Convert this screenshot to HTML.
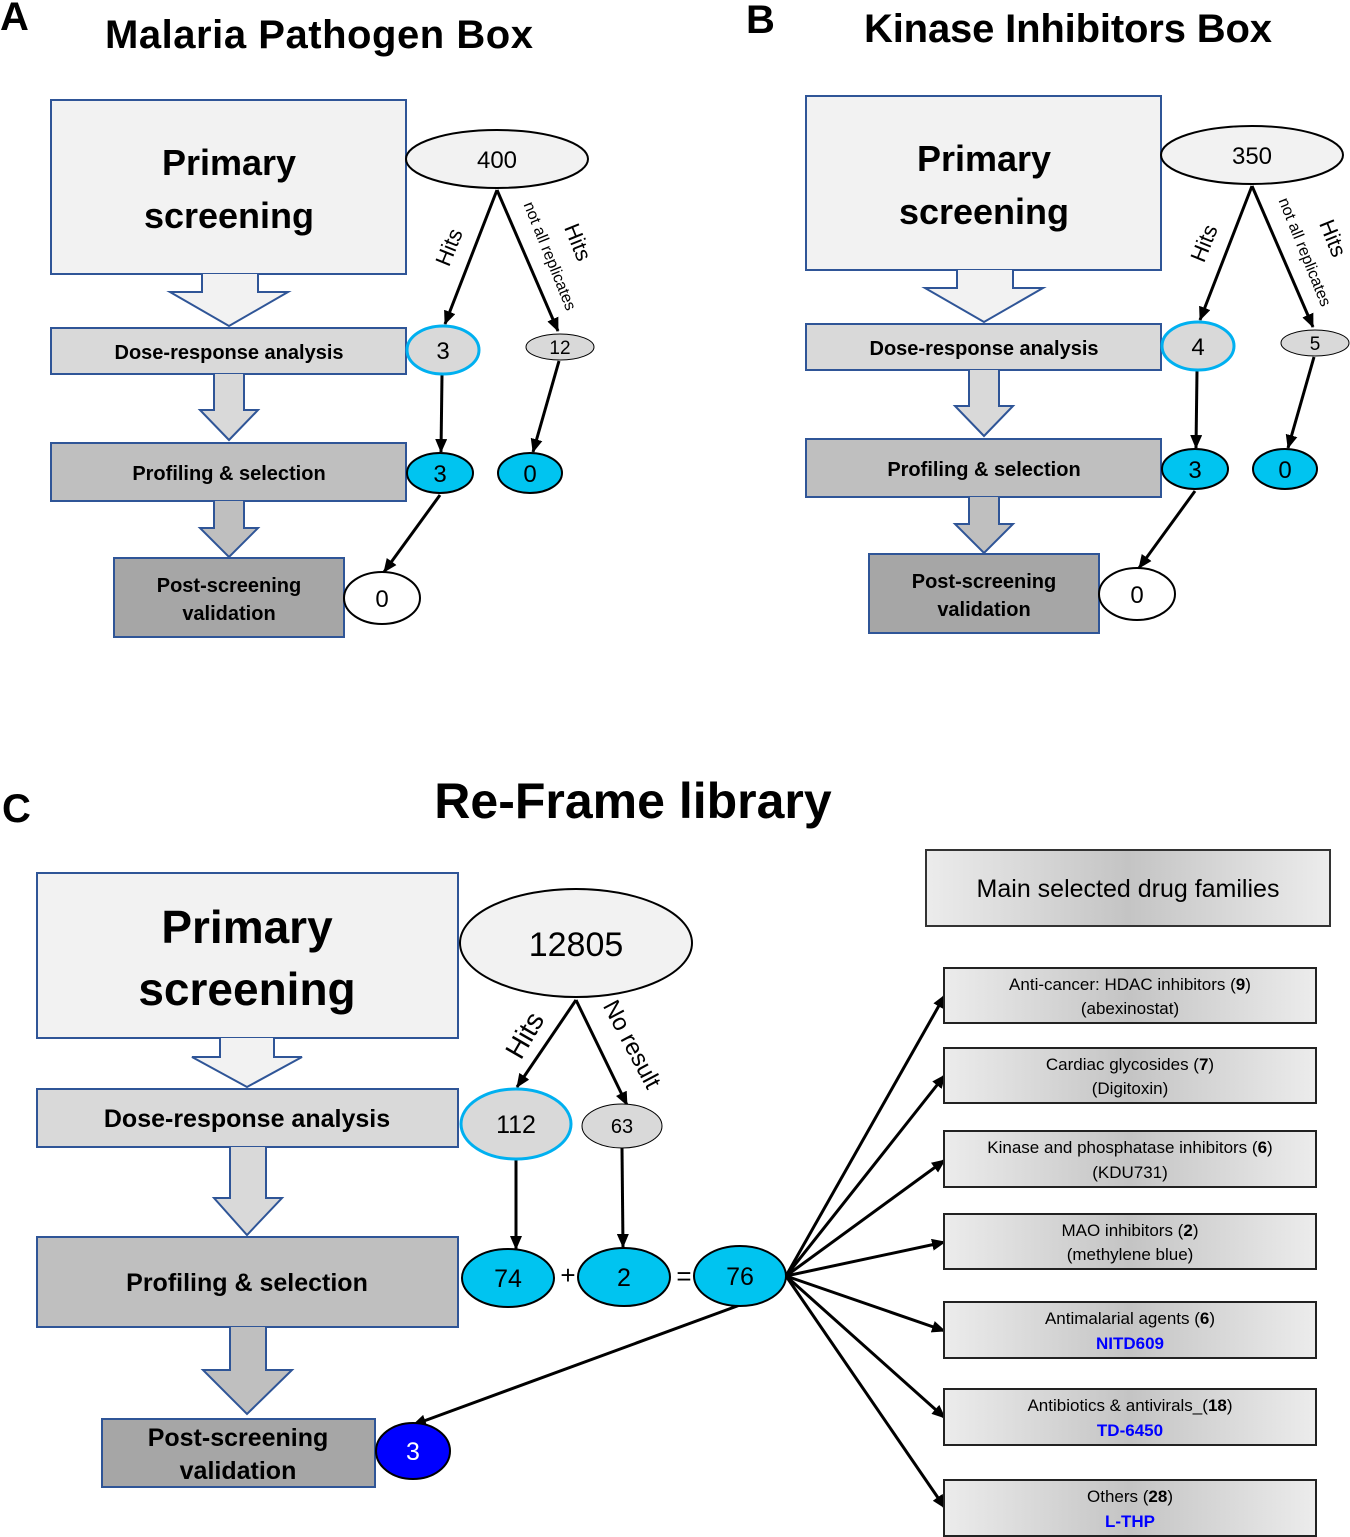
<!DOCTYPE html>
<html><head><meta charset="utf-8"><style>
html,body{margin:0;padding:0;background:#fff}
svg{display:block}
text{font-family:"Liberation Sans",sans-serif}
</style></head><body>
<svg width="1350" height="1537" viewBox="0 0 1350 1537" xmlns="http://www.w3.org/2000/svg">
<defs>
<marker id="ah" viewBox="0 0 14 12" refX="13" refY="6" markerWidth="14" markerHeight="12" orient="auto" markerUnits="userSpaceOnUse">
<path d="M0,0 L14,6 L0,12 z" fill="#000"/>
</marker>
<linearGradient id="g" x1="0" x2="1" y1="0" y2="0">
<stop offset="0" stop-color="#ececec"/><stop offset="0.5" stop-color="#c4c4c4"/><stop offset="1" stop-color="#ececec"/>
</linearGradient>
<g id="panel">
<rect x="51" y="100" width="355" height="174" fill="#f2f2f2" stroke="#2f5597" stroke-width="2"/>
<text x="229" y="175" font-size="36" font-weight="bold" text-anchor="middle">Primary</text>
<text x="229" y="228" font-size="36" font-weight="bold" text-anchor="middle">screening</text>
<path d="M202,274 V292 H170 L229,326 L288,292 H258 V274" fill="#f2f2f2" stroke="#2f5597" stroke-width="2"/>
<rect x="51" y="328" width="355" height="46" fill="#d9d9d9" stroke="#2f5597" stroke-width="2"/>
<text x="229" y="359" font-size="20" font-weight="bold" text-anchor="middle">Dose-response analysis</text>
<path d="M214,374 V410 H200 L229,440 L258,410 H244 V374" fill="#d9d9d9" stroke="#2f5597" stroke-width="2"/>
<rect x="51" y="443" width="355" height="58" fill="#bfbfbf" stroke="#2f5597" stroke-width="2"/>
<text x="229" y="480" font-size="20" font-weight="bold" text-anchor="middle">Profiling &amp; selection</text>
<path d="M214,501 V528 H200 L229,557 L258,528 H244 V501" fill="#bfbfbf" stroke="#2f5597" stroke-width="2"/>
<rect x="114" y="558" width="230" height="79" fill="#a6a6a6" stroke="#2f5597" stroke-width="2"/>
<text x="229" y="592" font-size="20" font-weight="bold" text-anchor="middle">Post-screening</text>
<text x="229" y="620" font-size="20" font-weight="bold" text-anchor="middle">validation</text>
<g stroke="#000" stroke-width="3" fill="none" marker-end="url(#ah)">
<line x1="497" y1="190" x2="445" y2="324"/>
<line x1="497" y1="190" x2="558" y2="331"/>
<line x1="442" y1="375" x2="441" y2="452"/>
<line x1="559" y1="361" x2="533" y2="452"/>
<line x1="440" y1="495" x2="384" y2="572"/>
</g>
<ellipse cx="443" cy="350" rx="36" ry="24" fill="#d9d9d9" stroke="#00b0f0" stroke-width="3"/>
<ellipse cx="560" cy="347" rx="34" ry="13" fill="#d9d9d9" stroke="#000" stroke-width="1"/>
<ellipse cx="440" cy="473" rx="33" ry="20" fill="#00c4f0" stroke="#000" stroke-width="2"/>
<ellipse cx="530" cy="473" rx="32" ry="20" fill="#00c4f0" stroke="#000" stroke-width="2"/>
<ellipse cx="382" cy="598" rx="38" ry="26" fill="#fff" stroke="#000" stroke-width="2"/>
<ellipse cx="497" cy="159" rx="91" ry="29" fill="#f2f2f2" stroke="#000" stroke-width="2"/>
<text x="456" y="250" font-size="22" text-anchor="middle" transform="rotate(-68 456 250)">Hits</text>
<text x="571" y="245" font-size="22" text-anchor="middle" transform="rotate(68 571 245)">Hits</text>
<text x="545" y="258" font-size="16" text-anchor="middle" transform="rotate(68 545 258)">not all replicates</text>
</g>
</defs>

<text x="0" y="30" font-size="40" font-weight="bold">A</text>
<text x="319" y="48" font-size="40" font-weight="bold" text-anchor="middle" textLength="428">Malaria Pathogen Box</text>
<text x="746" y="33" font-size="40" font-weight="bold">B</text>
<text x="1068" y="42" font-size="40" font-weight="bold" text-anchor="middle" textLength="408">Kinase Inhibitors Box</text>

<use href="#panel"/>
<g font-size="24" text-anchor="middle">
<text x="497" y="168">400</text>
<text x="443" y="359">3</text>
<text x="560" y="354" font-size="19">12</text>
<text x="440" y="482">3</text>
<text x="530" y="482">0</text>
<text x="382" y="607">0</text>
</g>
<g transform="translate(755,-4)">
<use href="#panel"/>
<g font-size="24" text-anchor="middle">
<text x="497" y="168">350</text>
<text x="443" y="359">4</text>
<text x="560" y="354" font-size="19">5</text>
<text x="440" y="482">3</text>
<text x="530" y="482">0</text>
<text x="382" y="607">0</text>
</g>
</g>

<text x="2" y="822" font-size="40" font-weight="bold">C</text>
<text x="633" y="818" font-size="50" font-weight="bold" text-anchor="middle">Re-Frame library</text>

<rect x="37" y="873" width="421" height="165" fill="#f2f2f2" stroke="#2f5597" stroke-width="2"/>
<text x="247" y="943" font-size="46" font-weight="bold" text-anchor="middle">Primary</text>
<text x="247" y="1005" font-size="46" font-weight="bold" text-anchor="middle">screening</text>
<path d="M220,1038 V1057 H192 L247,1087 L302,1057 H274 V1038" fill="#f2f2f2" stroke="#2f5597" stroke-width="2"/>
<rect x="37" y="1089" width="421" height="58" fill="#d9d9d9" stroke="#2f5597" stroke-width="2"/>
<text x="247" y="1127" font-size="25" font-weight="bold" text-anchor="middle">Dose-response analysis</text>
<path d="M230,1147 V1198 H214 L247,1235 L282,1198 H266 V1147" fill="#d9d9d9" stroke="#2f5597" stroke-width="2"/>
<rect x="37" y="1237" width="421" height="90" fill="#bfbfbf" stroke="#2f5597" stroke-width="2"/>
<text x="247" y="1291" font-size="25" font-weight="bold" text-anchor="middle">Profiling &amp; selection</text>
<path d="M230,1327 V1370 H203 L247,1414 L292,1370 H266 V1327" fill="#bfbfbf" stroke="#2f5597" stroke-width="2"/>
<rect x="102" y="1419" width="273" height="68" fill="#a6a6a6" stroke="#2f5597" stroke-width="2"/>
<text x="238" y="1446" font-size="25" font-weight="bold" text-anchor="middle">Post-screening</text>
<text x="238" y="1479" font-size="25" font-weight="bold" text-anchor="middle">validation</text>

<g stroke="#000" stroke-width="3" fill="none" marker-end="url(#ah)">
<line x1="576" y1="1000" x2="517" y2="1087"/>
<line x1="576" y1="1000" x2="627" y2="1105"/>
<line x1="516" y1="1160" x2="516" y2="1249"/>
<line x1="622" y1="1148" x2="623" y2="1247"/>
<line x1="740" y1="1305" x2="413" y2="1425"/>
<line x1="786" y1="1276" x2="945" y2="995"/>
<line x1="786" y1="1276" x2="945" y2="1075"/>
<line x1="786" y1="1276" x2="945" y2="1160"/>
<line x1="786" y1="1276" x2="945" y2="1242"/>
<line x1="786" y1="1276" x2="945" y2="1331"/>
<line x1="786" y1="1276" x2="945" y2="1418"/>
<line x1="786" y1="1276" x2="945" y2="1508"/>
</g>

<ellipse cx="576" cy="943" rx="116" ry="54" fill="#f2f2f2" stroke="#000" stroke-width="2"/>
<text x="576" y="956" font-size="34" text-anchor="middle">12805</text>
<ellipse cx="516" cy="1124" rx="55" ry="35" fill="#d9d9d9" stroke="#00b0f0" stroke-width="3"/>
<text x="516" y="1133" font-size="25" text-anchor="middle">112</text>
<ellipse cx="622" cy="1126" rx="40" ry="22" fill="#d9d9d9" stroke="#000" stroke-width="1"/>
<text x="622" y="1133" font-size="20" text-anchor="middle">63</text>
<ellipse cx="508" cy="1278" rx="46" ry="29" fill="#00c4f0" stroke="#000" stroke-width="2"/>
<text x="508" y="1287" font-size="25" text-anchor="middle">74</text>
<ellipse cx="624" cy="1277" rx="46" ry="29" fill="#00c4f0" stroke="#000" stroke-width="2"/>
<text x="624" y="1286" font-size="25" text-anchor="middle">2</text>
<ellipse cx="740" cy="1276" rx="46" ry="30" fill="#00c4f0" stroke="#000" stroke-width="2"/>
<text x="740" y="1285" font-size="25" text-anchor="middle">76</text>
<text x="568" y="1284" font-size="26" text-anchor="middle">+</text>
<text x="684" y="1285" font-size="26" text-anchor="middle">=</text>
<ellipse cx="413" cy="1451" rx="37" ry="28" fill="#0000ff" stroke="#000" stroke-width="2"/>
<text x="413" y="1460" font-size="25" fill="#fff" text-anchor="middle">3</text>

<text x="533" y="1040" font-size="28" text-anchor="middle" transform="rotate(-60 533 1040)">Hits</text>
<text x="625" y="1048" font-size="24" text-anchor="middle" transform="rotate(62 625 1048)">No result</text>

<rect x="926" y="850" width="404" height="76" fill="url(#g)" stroke="#333" stroke-width="2"/>
<text x="1128" y="897" font-size="25" text-anchor="middle">Main selected drug families</text>

<g stroke="#222" stroke-width="2" fill="url(#g)">
<rect x="944" y="968" width="372" height="55"/>
<rect x="944" y="1048" width="372" height="55"/>
<rect x="944" y="1131" width="372" height="56"/>
<rect x="944" y="1214" width="372" height="55"/>
<rect x="944" y="1302" width="372" height="56"/>
<rect x="944" y="1389" width="372" height="56"/>
<rect x="944" y="1480" width="372" height="56"/>
</g>
<g font-size="17" text-anchor="middle">
<text x="1130" y="990">Anti-cancer: HDAC inhibitors (<tspan font-weight="bold">9</tspan>)</text>
<text x="1130" y="1014">(abexinostat)</text>
<text x="1130" y="1070">Cardiac glycosides (<tspan font-weight="bold">7</tspan>)</text>
<text x="1130" y="1094">(Digitoxin)</text>
<text x="1130" y="1153">Kinase and phosphatase inhibitors (<tspan font-weight="bold">6</tspan>)</text>
<text x="1130" y="1178">(KDU731)</text>
<text x="1130" y="1236">MAO inhibitors (<tspan font-weight="bold">2</tspan>)</text>
<text x="1130" y="1260">(methylene blue)</text>
<text x="1130" y="1324">Antimalarial agents (<tspan font-weight="bold">6</tspan>)</text>
<text x="1130" y="1349" fill="#0000ff" font-weight="bold">NITD609</text>
<text x="1130" y="1411">Antibiotics &amp; antivirals_(<tspan font-weight="bold">18</tspan>)</text>
<text x="1130" y="1436" fill="#0000ff" font-weight="bold">TD-6450</text>
<text x="1130" y="1502">Others (<tspan font-weight="bold">28</tspan>)</text>
<text x="1130" y="1527" fill="#0000ff" font-weight="bold">L-THP</text>
</g>
</svg>
</body></html>
